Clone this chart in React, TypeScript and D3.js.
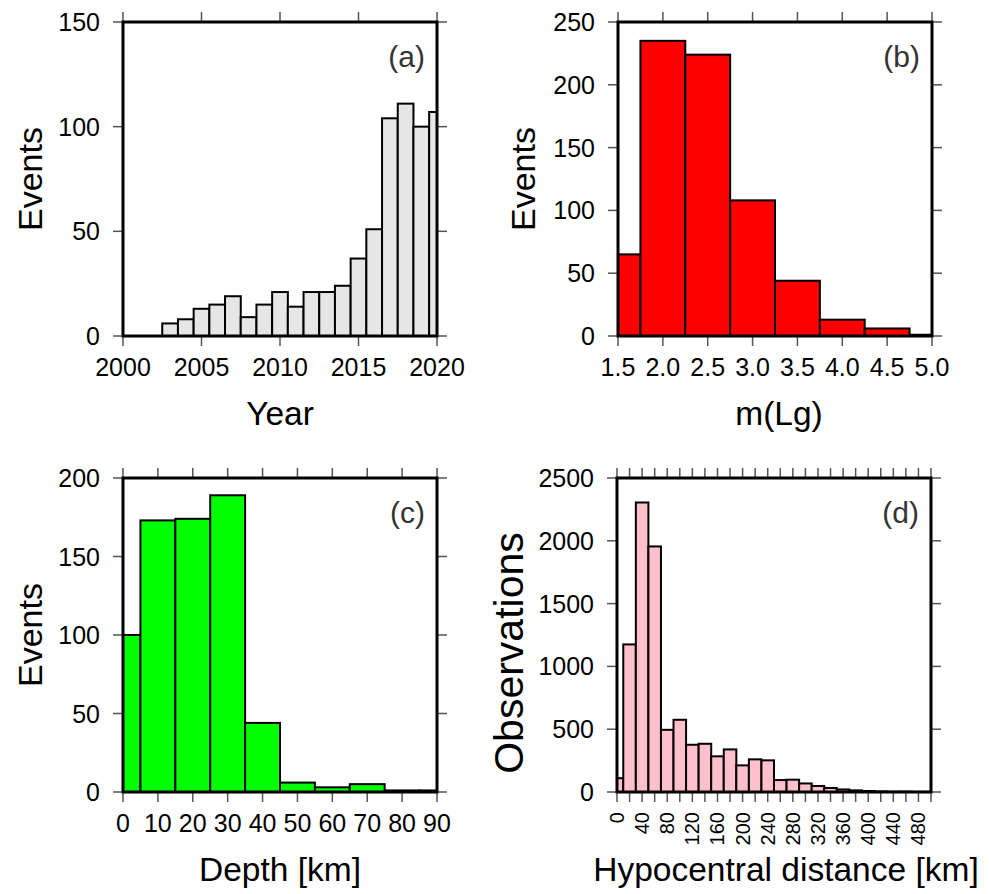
import React from "react";
import * as d3 from "d3";

// (a) events per year, bins centred on the year
const yearCenters = [2003, 2004, 2005, 2006, 2007, 2008, 2009, 2010, 2011, 2012, 2013, 2014, 2015, 2016, 2017, 2018, 2019, 2020];
const yearCounts = [6, 8, 13, 15, 19, 9, 15, 21, 14, 21, 21, 24, 37, 51, 104, 111, 100, 107];

// (b) events per magnitude bin
const magCenters = [1.5, 2.0, 2.5, 3.0, 3.5, 4.0, 4.5, 5.0];
const magCounts = [65, 235, 224, 108, 44, 13, 6, 1];

// (c) events per depth bin
const depthCenters = [0, 10, 20, 30, 40, 50, 60, 70, 80, 90];
const depthCounts = [100, 173, 174, 189, 44, 6, 3, 5, 1, 1];

// (d) observations per hypocentral distance bin
const distCenters = [0, 20, 40, 60, 80, 100, 120, 140, 160, 180, 200, 220, 240, 260, 280, 300, 320, 340, 360, 380, 400, 420, 440, 460, 480, 500];
const distCounts = [110, 1175, 2305, 1955, 495, 575, 376, 384, 284, 339, 212, 260, 252, 95, 98, 68, 48, 32, 20, 13, 8, 4, 2, 3, 1, 1];

// ticks
const yearTicks = [2000, 2005, 2010, 2015, 2020];
const magTicks = [1.5, 2.0, 2.5, 3.0, 3.5, 4.0, 4.5, 5.0];
const depthTicks = [0, 10, 20, 30, 40, 50, 60, 70, 80, 90];
const distTicks = [0, 20, 40, 60, 80, 100, 120, 140, 160, 180, 200, 220, 240, 260, 280, 300, 320, 340, 360, 380, 400, 420, 440, 460, 480, 500];
const distLabels = [0, 40, 80, 120, 160, 200, 240, 280, 320, 360, 400, 440, 480];
const eventsTicksA = [0, 50, 100, 150];
const eventsTicksB = [0, 50, 100, 150, 200, 250];
const eventsTicksC = [0, 50, 100, 150, 200];
const obsTicks = [0, 500, 1000, 1500, 2000, 2500];

const FONT = "'Liberation Sans', Arial, Helvetica, sans-serif";
const SIZE = 314;
const TICK = 10;

type PanelProps = {
  left: number;
  top: number;
  xDomain: [number, number];
  yDomain: [number, number];
  centers: number[];
  counts: number[];
  binWidth: number;
  xTicks: number[];
  xLabels: number[];
  yTicks: number[];
  fill: string;
  tag: string;
  xTitle: string;
  yTitle: string;
  yTitleX: number;
  yTitleSize: number;
  yTitleDy?: number;
  xTitleDx?: number;
  fmt?: (v: number) => string;
  rotateLabels?: boolean;
};

const Panel = ({
  left, top, xDomain, yDomain, centers, counts, binWidth, xTicks, xLabels, yTicks,
  fill, tag, xTitle, yTitle, yTitleX, yTitleSize, yTitleDy = 0, xTitleDx = 0,
  fmt = d3.format("d"), rotateLabels = false,
}: PanelProps) => {
  const x = d3.scaleLinear().domain(xDomain).range([left, left + SIZE]);
  const y = d3.scaleLinear().domain(yDomain).range([top + SIZE, top]);
  const bottom = top + SIZE;
  const right = left + SIZE;

  const bars = centers.map((c, i) => {
    const x0 = Math.max(xDomain[0], c - binWidth / 2);
    const x1 = Math.min(xDomain[1], c + binWidth / 2);
    return { x: x(x0), w: x(x1) - x(x0), y: y(counts[i]), h: y(0) - y(counts[i]) };
  });

  return (
    <g>
      {/* bars */}
      {bars.map((b, i) => (
        <rect key={i} x={b.x} y={b.y} width={b.w} height={b.h} fill={fill} stroke="#000" strokeWidth={2} />
      ))}

      {/* ticks on all four sides, pointing outward */}
      <g stroke="#555" strokeWidth={1.5}>
        {xTicks.map((t) => (
          <g key={"x" + t}>
            <line x1={x(t)} x2={x(t)} y1={bottom} y2={bottom + TICK} />
            <line x1={x(t)} x2={x(t)} y1={top} y2={top - TICK} />
          </g>
        ))}
        {yTicks.map((t) => (
          <g key={"y" + t}>
            <line x1={left} x2={left - TICK} y1={y(t)} y2={y(t)} />
            <line x1={right} x2={right + TICK} y1={y(t)} y2={y(t)} />
          </g>
        ))}
      </g>

      {/* frame */}
      <rect x={left} y={top} width={SIZE} height={SIZE} fill="none" stroke="#000" strokeWidth={3} />

      {/* x tick labels */}
      {xLabels.map((t) =>
        rotateLabels ? (
          <text
            key={"xl" + t}
            transform={`translate(${x(t)},${bottom + 20}) rotate(-90)`}
            textAnchor="end"
            dy="0.35em"
            fontSize={20}
          >
            {fmt(t)}
          </text>
        ) : (
          <text key={"xl" + t} x={x(t)} y={bottom + 40} textAnchor="middle" fontSize={25}>
            {fmt(t)}
          </text>
        )
      )}

      {/* y tick labels */}
      {yTicks.map((t) => (
        <text key={"yl" + t} x={left - 23} y={y(t)} dy="0.36em" textAnchor="end" fontSize={25}>
          {t}
        </text>
      ))}

      {/* titles */}
      <text x={(left + right) / 2 + xTitleDx} y={bottom + 89} textAnchor="middle" fontSize={33.5}>
        {xTitle}
      </text>
      <text
        transform={`translate(${left + yTitleX},${(top + bottom) / 2 + yTitleDy}) rotate(-90)`}
        textAnchor="middle"
        fontSize={yTitleSize}
      >
        {yTitle}
      </text>
      <text x={right - 12} y={top + 45} textAnchor="end" fontSize={30} fill="#333">
        {tag}
      </text>
    </g>
  );
};

export default function App() {
  return (
    <div style={{ position: "absolute", left: 0, top: 0 }}>
      <svg width={989} height={894} style={{ display: "block", background: "#fff", fontFamily: FONT }}>
        <Panel
          left={123} top={22}
          xDomain={[2000, 2020]} yDomain={[0, 150]}
          centers={yearCenters} counts={yearCounts} binWidth={1}
          xTicks={yearTicks} xLabels={yearTicks} yTicks={eventsTicksA}
          fill="#e6e6e6" tag="(a)" xTitle="Year" yTitle="Events" yTitleX={-81} yTitleSize={34}
        />
        <Panel
          left={618} top={22}
          xDomain={[1.5, 5.0]} yDomain={[0, 250]}
          centers={magCenters} counts={magCounts} binWidth={0.5}
          xTicks={magTicks} xLabels={magTicks} yTicks={eventsTicksB}
          fill="#ff0000" tag="(b)" xTitle="m(Lg)" yTitle="Events" yTitleX={-83} yTitleSize={34}
          xTitleDx={4} fmt={d3.format(".1f")}
        />
        <Panel
          left={123} top={478}
          xDomain={[0, 90]} yDomain={[0, 200]}
          centers={depthCenters} counts={depthCounts} binWidth={10}
          xTicks={depthTicks} xLabels={depthTicks} yTicks={eventsTicksC}
          fill="#00ff00" tag="(c)" xTitle="Depth [km]" yTitle="Events" yTitleX={-81} yTitleSize={34}
        />
        <Panel
          left={617} top={478}
          xDomain={[0, 500]} yDomain={[0, 2500]}
          centers={distCenters} counts={distCounts} binWidth={20}
          xTicks={distTicks} xLabels={distLabels} yTicks={obsTicks}
          fill="#ffc0cb" tag="(d)" xTitle="Hypocentral distance [km]" yTitle="Observations"
          yTitleX={-94} yTitleSize={41} yTitleDy={18} xTitleDx={12} rotateLabels
        />
      </svg>
    </div>
  );
}
